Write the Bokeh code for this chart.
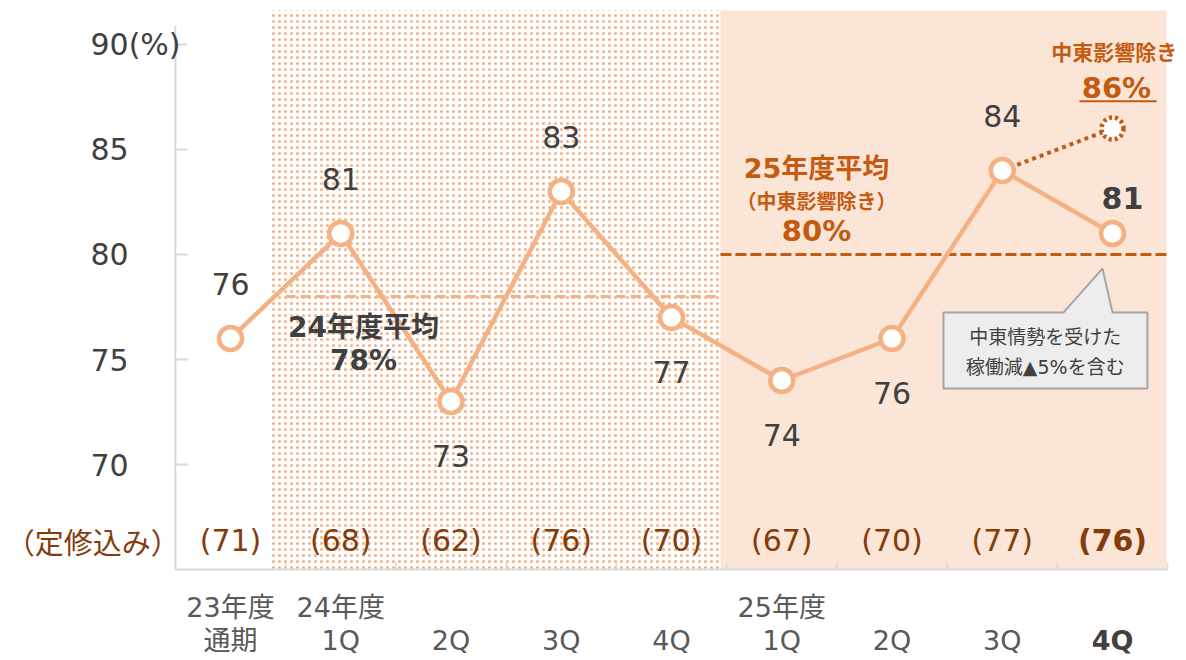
from bokeh.plotting import figure
from bokeh.models import ColumnDataSource, Range1d
from bokeh.core.properties import value
from bokeh.embed import file_html
from bokeh.resources import INLINE

# ---------------- data ----------------
cat_line1 = ["23年度", "24年度", "", "", "", "25年度", "", "", ""]
cat_line2 = ["通期", "1Q", "2Q", "3Q", "4Q", "1Q", "2Q", "3Q", "4Q"]
utilization = [76, 81, 73, 83, 77, 74, 76, 84, 81]
incl_maintenance = ["(71)", "(68)", "(62)", "(76)", "(70)", "(67)", "(70)", "(77)", "(76)"]
label_side = ["above", "above", "below", "above", "below", "below", "below", "above", "right"]
avg_fy24 = 78
avg_fy25_ex = 80
q4_ex_mideast = 86
y_ticks = [70, 75, 80, 85, 90]
y_tick_labels = ["70", "75", "80", "85", "90(%)"]

# ---------------- styling ----------------
FONT = value("DejaVu Sans, Noto Sans CJK JP")
CJK = value("Noto Sans CJK JP")
LINE_C = "#F4B183"
DARK_OR = "#C55A11"
BROWN = "#843C0C"
TXT = "#404040"
AXIS_C = "#D9D9D9"
Y_MIN, Y_TOP = 65, 90.9
X_LEFT, X_RIGHT = -0.5, 8.5

n = len(utilization)
xs = list(range(n))

p = figure(width=1186, height=660, output_backend="svg", toolbar_location=None,
           x_range=Range1d(-2.0862, 8.6712), y_range=Range1d(60.667, 92.095),
           min_border=0, min_border_left=0, min_border_right=0,
           min_border_top=0, min_border_bottom=0)
p.xaxis.visible = False
p.yaxis.visible = False
p.grid.visible = False
p.outline_line_color = None
p.background_fill_color = "white"
p.border_fill_color = "white"

# shaded regions
p.quad(left=[0.36], right=[4.444], bottom=[Y_MIN], top=[91.62],
       fill_color=None, line_color=None,
       hatch_pattern="dot", hatch_color="#F4B183", hatch_scale=6, hatch_weight=1)
p.quad(left=[4.444], right=[8.49], bottom=[Y_MIN], top=[91.62],
       fill_color="#FBE5D6", line_color=None)

# axes (drawn)
p.segment(x0=[X_LEFT], y0=[Y_MIN], x1=[X_LEFT], y1=[Y_TOP], line_color=AXIS_C, line_width=2)
p.segment(x0=[X_LEFT], y0=[Y_MIN], x1=[X_RIGHT], y1=[Y_MIN], line_color=AXIS_C, line_width=2)
p.segment(x0=[X_LEFT] * len(y_ticks), y0=y_ticks,
          x1=[X_LEFT + 0.11] * len(y_ticks), y1=y_ticks, line_color=AXIS_C, line_width=2)
bounds = [X_LEFT + k for k in range(1, n + 1)]
p.segment(x0=bounds, y0=[Y_MIN] * n, x1=bounds, y1=[Y_MIN + 0.33] * n,
          line_color=AXIS_C, line_width=1.5)

# y tick labels
p.text(x=[-1.27] * len(y_ticks), y=y_ticks, text=y_tick_labels, text_font=FONT,
       text_font_size="30px", text_color=TXT, text_align="left", text_baseline="middle")

# average lines
p.segment(x0=[0.5], y0=[avg_fy24], x1=[4.444], y1=[avg_fy24],
          line_color=LINE_C, line_width=3, line_dash="10 5")
p.segment(x0=[4.444], y0=[avg_fy25_ex], x1=[8.49], y1=[avg_fy25_ex],
          line_color=DARK_OR, line_width=3, line_dash="11 4")

# dotted extension to Q4 ex-Middle-East
p.line(x=[xs[-2], xs[-1]], y=[utilization[-2], q4_ex_mideast],
       line_color=DARK_OR, line_width=4, line_dash="4 4")
p.scatter(x=[xs[-1]], y=[q4_ex_mideast], size=22, fill_color="white",
          line_color=DARK_OR, line_width=4.5, line_dash="3 3")

# main line + markers
src = ColumnDataSource(dict(x=xs, y=utilization))
p.line("x", "y", source=src, line_color=LINE_C, line_width=4.5)
p.scatter("x", "y", source=src, size=23, fill_color="white",
          line_color=LINE_C, line_width=4.5)

# value labels
GAP = 2.6
reg_x, reg_y, reg_t = [], [], []
for x, v, s in zip(xs, utilization, label_side):
    if s == "above":
        reg_x.append(x); reg_y.append(v + GAP); reg_t.append(str(v))
    elif s == "below":
        reg_x.append(x); reg_y.append(v - GAP); reg_t.append(str(v))
p.text(x=reg_x, y=reg_y, text=reg_t, text_font=FONT, text_font_size="30px",
       text_color=TXT, text_align="center", text_baseline="middle")
last_x = [x for x, s in zip(xs, label_side) if s == "right"]
last_v = [v for v, s in zip(utilization, label_side) if s == "right"]
p.text(x=[x + 0.09 for x in last_x], y=[v + 1.7 for v in last_v], text=[str(v) for v in last_v],
       text_font=FONT, text_font_size="30px", text_font_style="bold",
       text_color=TXT, text_align="center", text_baseline="middle")

# bottom row: maintenance-included values
ROW_Y = 66.38
p.text(x=[-1.25], y=[ROW_Y], text=["（定修込み）"], text_font=CJK, text_font_size="29px",
       text_color=BROWN, text_align="center", text_baseline="middle")
p.text(x=xs[:-1], y=[ROW_Y] * (n - 1), text=incl_maintenance[:-1], text_font=FONT,
       text_font_size="30px", text_color=BROWN, text_align="center", text_baseline="middle")
p.text(x=xs[-1:], y=[ROW_Y], text=incl_maintenance[-1:], text_font=FONT,
       text_font_size="30px", text_font_style="bold", text_color=BROWN,
       text_align="center", text_baseline="middle")

# category labels
p.text(x=xs, y=[63.19] * n, text=cat_line1, text_font=FONT, text_font_size="27px",
       text_color="#595959", text_align="center", text_baseline="middle")
p.text(x=xs[:-1], y=[61.62] * (n - 1), text=cat_line2[:-1], text_font=FONT,
       text_font_size="27px", text_color="#595959", text_align="center", text_baseline="middle")
p.text(x=xs[-1:], y=[61.62], text=cat_line2[-1:], text_font=FONT, text_font_size="27px",
       text_font_style="bold", text_color=TXT, text_align="center", text_baseline="middle")

# average annotations
p.text(x=[1.206, 1.206], y=[76.52, 74.95], text=["24年度平均", f"{avg_fy24}%"],
       text_font=FONT, text_font_size="28px", text_font_style="bold", text_color=TXT,
       text_align="center", text_baseline="middle")
p.text(x=[5.315], y=[84.10], text=["25年度平均"],
       text_font=FONT, text_font_size="27px", text_font_style="bold", text_color=DARK_OR,
       text_align="center", text_baseline="middle")
p.text(x=[5.315], y=[81.10], text=[f"{avg_fy25_ex}%"],
       text_font=FONT, text_font_size="29px", text_font_style="bold", text_color=DARK_OR,
       text_align="center", text_baseline="middle")
p.text(x=[5.315], y=[82.57], text=["（中東影響除き）"],
       text_font=CJK, text_font_size="20px", text_font_style="bold", text_color=DARK_OR,
       text_align="center", text_baseline="middle")

# top-right annotation
p.text(x=[8.015], y=[89.71], text=["中東影響除き"], text_font=CJK, text_font_size="21px",
       text_font_style="bold", text_color=DARK_OR, text_align="center", text_baseline="middle")
p.text(x=[8.036], y=[87.95], text=[f"{q4_ex_mideast}%"], text_font=FONT, text_font_size="29px",
       text_font_style="bold", text_color=DARK_OR, text_align="center", text_baseline="middle")
p.segment(x0=[7.70], y0=[87.30], x1=[8.40], y1=[87.30], line_color=DARK_OR, line_width=2)

# callout
p.patch(x=[6.467, 7.556, 7.909, 8.0, 8.317, 8.317, 6.467, 6.467],
        y=[77.24, 77.24, 79.33, 77.24, 77.24, 73.62, 73.62, 77.24],
        fill_color="#EDEDED", line_color="#A6A6A6", line_width=2)
p.text(x=[7.39, 7.39], y=[76.05, 74.62], text=["中東情勢を受けた", "稼働減▲5%を含む"],
       text_font=FONT, text_font_size="19px", text_color=TXT,
       text_align="center", text_baseline="middle")

open("out.html", "w").write(file_html(p, INLINE))
